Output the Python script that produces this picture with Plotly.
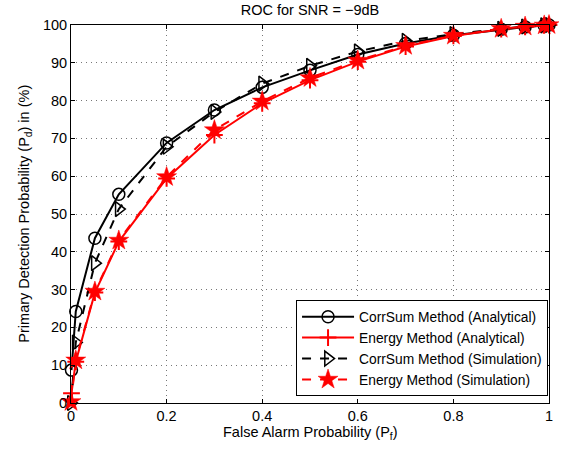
import plotly.graph_objects as go

# Data
pf_analytical = [0.001, 0.01, 0.05, 0.1, 0.2, 0.3, 0.4, 0.5, 0.6, 0.7, 0.8, 0.9, 0.95, 0.99, 1.0]
pf_simulation = [0.0, 0.01, 0.05, 0.1, 0.2, 0.3, 0.4, 0.5, 0.6, 0.7, 0.8, 0.9, 0.95, 0.99, 1.0]

corrsum_analytical = [8.7, 24.2, 43.6, 55.2, 68.8, 77.5, 83.5, 88.0, 92.2, 95.1, 97.3, 98.9, 99.5, 99.9, 100.0]
energy_analytical = [2.6, 10.9, 29.2, 42.7, 59.4, 70.9, 79.3, 85.4, 90.3, 94.3, 97.1, 98.9, 99.5, 99.9, 100.0]
corrsum_simulation = [0.0, 16.0, 37.0, 51.3, 67.8, 77.0, 84.5, 89.2, 93.0, 95.8, 97.6, 99.0, 99.6, 99.9, 100.0]
energy_simulation = [0.3, 11.3, 29.5, 43.0, 59.8, 72.2, 79.8, 86.0, 90.6, 94.5, 97.2, 99.0, 99.6, 99.9, 100.0]

x_ticks = [0, 0.2, 0.4, 0.6, 0.8, 1]
x_ticklabels = ["0", "0.2", "0.4", "0.6", "0.8", "1"]
y_ticks = [0, 10, 20, 30, 40, 50, 60, 70, 80, 90, 100]

FONT = "Liberation Sans, Arial, Helvetica, sans-serif"
FS = 14.5

fig = go.Figure()
fig.add_trace(go.Scatter(
    x=pf_analytical, y=corrsum_analytical, mode="lines+markers",
    name="CorrSum Method (Analytical)",
    line=dict(color="black", width=2),
    marker=dict(symbol="circle-open", size=12, color="black", line=dict(width=1.5, color="black")),
    cliponaxis=False,
))
fig.add_trace(go.Scatter(
    x=pf_analytical, y=energy_analytical, mode="lines+markers",
    name="Energy Method (Analytical)",
    line=dict(color="red", width=2),
    marker=dict(symbol="cross-thin", size=12, color="red", line=dict(width=2, color="red")),
    cliponaxis=False,
))
fig.add_trace(go.Scatter(
    x=pf_simulation, y=corrsum_simulation, mode="lines+markers",
    name="CorrSum Method (Simulation)",
    line=dict(color="black", width=2, dash="dash"),
    marker=dict(symbol="triangle-right-open", size=13, color="black", line=dict(width=1.5, color="black")),
    cliponaxis=False,
))
fig.add_trace(go.Scatter(
    x=pf_simulation, y=energy_simulation, mode="lines+markers",
    name="Energy Method (Simulation)",
    line=dict(color="red", width=2, dash="dash"),
    marker=dict(symbol="star", size=15, color="red", line=dict(width=0.5, color="red")),
    cliponaxis=False,
))

axis_common = dict(
    showline=True, linecolor="black", linewidth=1, mirror="ticks",
    ticks="inside", ticklen=4, tickcolor="black",
    showgrid=True, gridcolor="#777777", griddash="1px,4px", gridwidth=1,
    zeroline=False, automargin=False,
    tickfont=dict(family=FONT, size=FS, color="black"),
)

fig.update_xaxes(range=[0, 1], tickvals=x_ticks, ticktext=x_ticklabels, **axis_common)
fig.update_yaxes(range=[0, 100], tickvals=y_ticks, **axis_common)

fig.update_layout(
    width=562, height=451,
    margin=dict(l=71, r=13, t=25, b=48),
    paper_bgcolor="white", plot_bgcolor="white",
    title=dict(text="ROC for SNR = \u22129dB", xref="paper", x=0.5, xanchor="center",
               yref="container", y=0.978, yanchor="middle",
               font=dict(family=FONT, size=FS, color="black")),
    font=dict(family=FONT, size=FS, color="black"),
    showlegend=True,
    legend=dict(
        x=0.998, xanchor="right", y=0.018, yanchor="bottom",
        bgcolor="white", bordercolor="black", borderwidth=1,
        font=dict(family=FONT, size=13.8, color="black"),
        tracegroupgap=0, itemwidth=52,
    ),
    annotations=[
        dict(text="False Alarm Probability (P<sub>f</sub>)", xref="paper", yref="paper",
             x=0.5, y=-0.079, xanchor="center", yanchor="middle", showarrow=False,
             font=dict(family=FONT, size=FS, color="black")),
        dict(text="Primary Detection Probability (P<sub>d</sub>) in (%)", xref="paper", yref="paper",
             x=-0.097, y=0.5, xanchor="center", yanchor="middle", textangle=-90, showarrow=False,
             font=dict(family=FONT, size=FS, color="black")),
    ],
)

fig.write_html("out.html", config={"displayModeBar": False},
               post_script="document.body.style.margin='0px';")
